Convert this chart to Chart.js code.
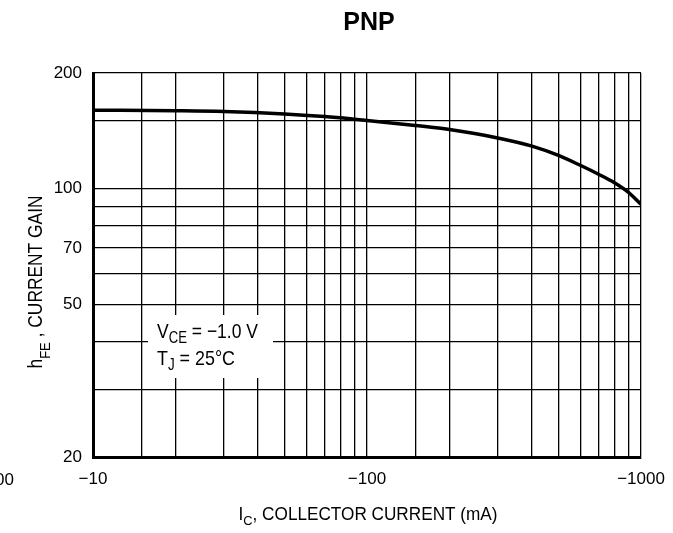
<!DOCTYPE html>
<html>
<head>
<meta charset="utf-8">
<script src="https://cdn.jsdelivr.net/npm/chart.js@4.4.1/dist/chart.umd.min.js"></script>
<style>
  html, body { margin: 0; padding: 0; background: #fff; }
  #wrap { width: 673px; height: 533px; position: relative; }
</style>
</head>
<body>
<div id="wrap"><canvas id="myChart" width="673" height="533"></canvas></div>
<script>
// collector current (mA, magnitude) and current gain
let currentMa = [10, 20, 30, 50, 70, 100, 150, 200, 300, 400, 500, 600, 700, 800, 900, 1000];
let gainHfe = [160, 159.5, 158.8, 156.5, 154, 150.5, 146, 142.5, 135.5, 129, 122, 115, 109, 103.6, 97.8, 91];

// grid lines and labelled ticks
let xGrid = [10, 15, 20, 30, 40, 50, 60, 70, 80, 90, 100, 150, 200, 300, 400, 500, 600, 700, 800, 900, 1000];
let xLabels = { 10: "\u221210", 100: "\u2212100", 1000: "\u22121000" };
let yGrid = [20, 30, 40, 50, 60, 70, 80, 90, 100, 150, 200];
let yLabels = { 20: "20", 50: "50", 70: "70", 100: "100", 200: "200" };

let fontFam = "'Liberation Sans', Arial, sans-serif";

// text made of pieces, some of them subscripts; squeezed to a target width
function drawParts(ctx, parts, x, y, o) {
    let w = 0;
    parts.forEach((p) => {
        ctx.font = (p.sub ? o.size * 0.75 : o.size) + "px " + fontFam;
        w += ctx.measureText(p.t).width;
    });
    let sx = o.width ? o.width / w : 1;
    let x0 = o.align == "center" ? x - (w * sx) / 2 : x;
    ctx.save();
    ctx.translate(x0, y);
    ctx.scale(sx, 1);
    let cx = 0;
    parts.forEach((p) => {
        ctx.font = (p.sub ? o.size * 0.75 : o.size) + "px " + fontFam;
        ctx.fillText(p.t, cx, p.sub ? o.subDy : 0);
        cx += ctx.measureText(p.t).width;
    });
    ctx.restore();
}

let textPlugin = {
    id: "texts",
    afterDraw(chart) {
        let ctx = chart.ctx;
        ctx.save();
        ctx.fillStyle = "#000";
        ctx.textBaseline = "alphabetic";

        // title
        ctx.font = "bold 25px " + fontFam;
        ctx.textAlign = "center";
        ctx.fillText("PNP", 369, 30);

        // cropped label from the neighbouring chart
        ctx.font = "17px " + fontFam;
        ctx.textAlign = "right";
        ctx.fillText("\u22121000", 14, 485);
        ctx.textAlign = "left";

        // x title
        drawParts(ctx, [{ t: "I" }, { t: "C", sub: true }, { t: ", COLLECTOR CURRENT (mA)" }], 368, 520,
            { size: 18, subDy: 5, width: 259, align: "center" });

        // y title (rotated)
        ctx.save();
        ctx.translate(42, 282);
        ctx.rotate(-Math.PI / 2);
        drawParts(ctx, [{ t: "h" }, { t: "FE", sub: true }, { t: " , CURRENT GAIN" }], 0, 0,
            { size: 20, subDy: 8, width: 173, align: "center" });
        ctx.restore();

        // conditions box
        ctx.fillStyle = "#fff";
        ctx.fillRect(148, 315, 125, 63);
        ctx.fillStyle = "#000";
        drawParts(ctx, [{ t: "V" }, { t: "CE", sub: true }, { t: " = \u22121.0 V" }], 157, 338,
            { size: 21, subDy: 5, width: 101 });
        drawParts(ctx, [{ t: "T" }, { t: "J", sub: true }, { t: " = 25\u00B0C" }], 157, 365,
            { size: 21, subDy: 5, width: 78 });
        ctx.restore();
    },
};

let ctx = document.getElementById("myChart").getContext("2d");
let chart = new Chart(ctx, {
    type: "line",
    data: {
        datasets: [
            {
                label: "hFE",
                data: currentMa.map((x, i) => ({ x: x, y: gainHfe[i] })),
                borderColor: "#000",
                borderWidth: 3.5,
                pointRadius: 0,
                cubicInterpolationMode: "monotone",
                fill: false,
            },
        ],
    },
    options: {
        responsive: false,
        animation: false,
        layout: { autoPadding: false, padding: { left: 0, right: 32, top: 73, bottom: 0 } },
        plugins: {
            legend: { display: false },
            tooltip: { enabled: false },
            title: { display: false },
        },
        scales: {
            x: {
                type: "logarithmic",
                min: 10,
                max: 1000,
                afterBuildTicks: (scale) => {
                    scale.ticks = xGrid.map((v) => ({ value: v }));
                },
                afterFit: (scale) => {
                    scale.height = 76;
                    scale.paddingLeft = 0;
                    scale.paddingRight = 0;
                },
                ticks: {
                    autoSkip: false,
                    maxRotation: 0,
                    padding: 12,
                    color: "#000",
                    font: { family: fontFam, size: 17 },
                    callback: (v) => xLabels[v] || "",
                },
                grid: { color: "#000", lineWidth: 1.3, drawTicks: false },
                border: { color: "#000", width: 3 },
            },
            y: {
                type: "logarithmic",
                min: 20,
                max: 200,
                afterBuildTicks: (scale) => {
                    scale.ticks = yGrid.map((v) => ({ value: v }));
                },
                afterFit: (scale) => {
                    scale.width = 93;
                    scale.paddingTop = 0;
                    scale.paddingBottom = 0;
                },
                ticks: {
                    autoSkip: false,
                    padding: 11,
                    color: "#000",
                    font: { family: fontFam, size: 17 },
                    callback: (v) => yLabels[v] || "",
                },
                grid: { color: "#000", lineWidth: 1.3, drawTicks: false },
                border: { color: "#000", width: 3 },
            },
        },
    },
    plugins: [textPlugin],
});
</script>
</body>
</html>
